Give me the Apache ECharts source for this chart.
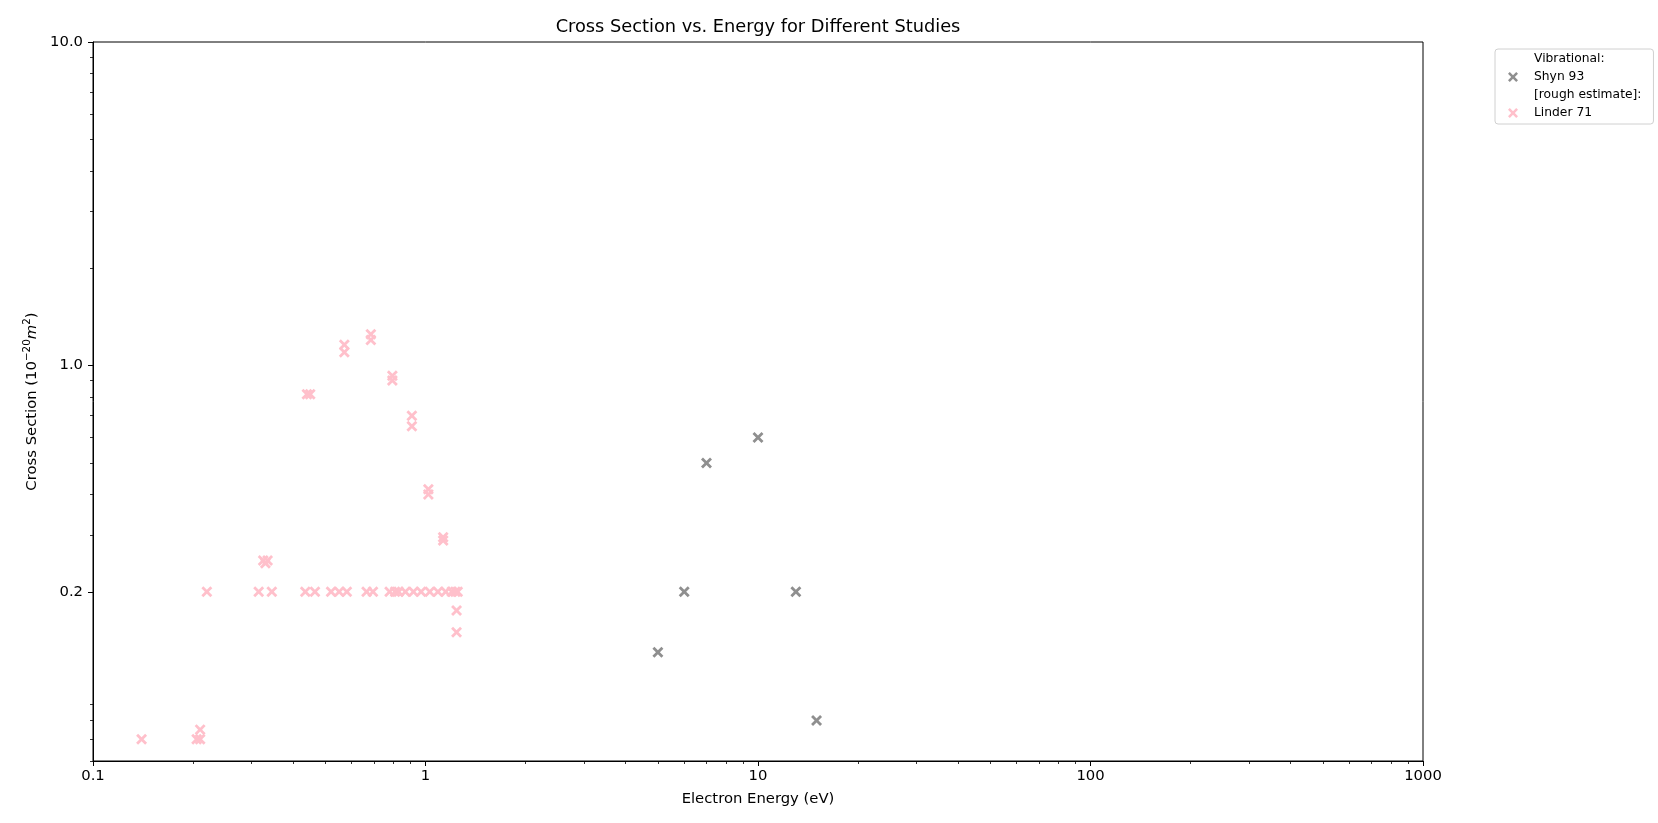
<!DOCTYPE html>
<html>
<head>
<meta charset="utf-8">
<script src="https://cdn.jsdelivr.net/npm/echarts@6/dist/echarts.min.js"></script>
<style>
html,body{margin:0;padding:0;background:#fff;}
#chart{width:1658px;height:823px;}
</style>
</head>
<body>
<div id="chart"></div>
<script>
// ---- data ----
const shynEnergy = [5, 6, 7, 10, 13, 15];
const shynCross  = [0.13, 0.2, 0.5, 0.6, 0.2, 0.08];

const linderEnergy = [
  0.14, 0.205, 0.21, 0.21, 0.22,
  0.315, 0.345, 0.325, 0.335, 0.33,
  0.435, 0.465, 0.44, 0.45,
  0.52, 0.55, 0.58, 0.57, 0.57,
  0.665, 0.695, 0.685, 0.685,
  0.78, 0.81, 0.83, 0.87, 0.92, 0.97, 1.03, 1.09, 1.15, 1.2, 1.23, 1.25,
  0.795, 0.795, 0.91, 0.91, 1.02, 1.02, 1.13, 1.13, 1.24, 1.24
];
const linderCross = [
  0.07, 0.07, 0.07, 0.075, 0.2,
  0.2, 0.2, 0.25, 0.25, 0.245,
  0.2, 0.2, 0.815, 0.815,
  0.2, 0.2, 0.2, 1.16, 1.10,
  0.2, 0.2, 1.25, 1.2,
  0.2, 0.2, 0.2, 0.2, 0.2, 0.2, 0.2, 0.2, 0.2, 0.2, 0.2, 0.2,
  0.93, 0.90, 0.70, 0.65, 0.415, 0.40, 0.295, 0.288, 0.175, 0.15
];

const xTickValues = [0.1, 1, 10, 100, 1000];
const xTickLabels = ['0.1', '1', '10', '100', '1000'];
const yTickValues = [0.2, 1, 10];
const yTickLabels = ['0.2', '1.0', '10.0'];
const xMinorTicks = [0.2,0.3,0.4,0.5,0.6,0.7,0.8,0.9, 2,3,4,5,6,7,8,9, 20,30,40,50,60,70,80,90, 200,300,400,500,600,700,800,900];
const yMinorTicks = [0.06,0.07,0.08,0.09, 0.2,0.3,0.4,0.5,0.6,0.7,0.8,0.9, 2,3,4,5,6,7,8,9];

const seriesNames = ['Vibrational:', 'Shyn 93', '[rough estimate]:', 'Linder 71'];
const colors = { shyn: '#8f8f8f', linder: '#ffc0cb' };

// ---- helpers ----
const d = 18;
const X_PATH = 'path://M' + d + ',0L50,' + (50 - d) + 'L' + (100 - d) + ',0L100,' + d + 'L' + (50 + d) + ',50L100,' + (100 - d) +
  'L' + (100 - d) + ',100L50,' + (50 + d) + 'L' + d + ',100L0,' + (100 - d) + 'L' + (50 - d) + ',50L0,' + d + 'Z';

function zip(xs, ys) { return xs.map((x, i) => [x, ys[i]]); }
function labelFor(values, labels) {
  return function (v) {
    for (let i = 0; i < values.length; i++) {
      if (Math.abs(values[i] - v) / values[i] < 1e-6) return labels[i];
    }
    return '';
  };
}

const FONT = 'DejaVu Sans';
const chart = echarts.init(document.getElementById('chart'), null, { renderer: 'canvas' });

const axisCommon = { type: 'log', logBase: 10, splitLine: { show: false } };

const option = {
  backgroundColor: '#fff',
  animation: false,
  textStyle: { fontFamily: FONT },
  grid: {
    left: 93, right: 235, top: 42, bottom: 62,
    show: true, borderColor: '#000', borderWidth: 1, backgroundColor: 'transparent'
  },
  graphic: [{
    type: 'text',
    style: {
      x: 758, y: 27, text: 'Cross Section vs. Energy for Different Studies',
      textAlign: 'center', textVerticalAlign: 'middle',
      font: '17.8px "DejaVu Sans"', fill: '#000'
    }
  }],
  xAxis: [
    Object.assign({}, axisCommon, {
      min: 0.1, max: 1000,
      axisLine: { show: true, lineStyle: { color: '#000', width: 1 } },
      axisTick: { show: true, length: 5, lineStyle: { color: '#000', width: 1 }, customValues: xTickValues },
      axisLabel: {
        show: true, color: '#000', fontSize: 14.8, fontFamily: FONT, margin: 8,
        customValues: xTickValues, formatter: labelFor(xTickValues, xTickLabels)
      },
      minorTick: { show: false },
      name: 'Electron Energy (eV)', nameLocation: 'middle', nameGap: 31,
      nameTextStyle: { color: '#000', fontSize: 14.8, fontFamily: FONT }
    }),
    Object.assign({}, axisCommon, {
      min: 0.1, max: 1000, position: 'bottom',
      axisLine: { show: false },
      axisTick: { show: true, length: 3, lineStyle: { color: '#000', width: 0.8 }, customValues: xMinorTicks },
      axisLabel: { show: false }
    })
  ],
  yAxis: [
    Object.assign({}, axisCommon, {
      min: 0.06, max: 10,
      axisLine: { show: true, lineStyle: { color: '#000', width: 1 } },
      axisTick: { show: true, length: 5, lineStyle: { color: '#000', width: 1 }, customValues: yTickValues },
      axisLabel: {
        show: true, color: '#000', fontSize: 14.8, fontFamily: FONT, margin: 10,
        customValues: yTickValues, formatter: labelFor(yTickValues, yTickLabels)
      },
      name: '{n|Cross Section (10}{s|−20}{i|m}{s|2}{n|)}',
      nameLocation: 'middle', nameGap: 46, nameRotate: 90,
      nameTextStyle: {
        color: '#000', fontSize: 14.8, fontFamily: FONT,
        rich: {
          n: { fontSize: 14.8, fontFamily: FONT, color: '#000' },
          i: { fontSize: 14.8, fontFamily: FONT, fontStyle: 'italic', color: '#000' },
          s: { fontSize: 10.4, fontFamily: FONT, color: '#000', padding: [0, 0, 9, 0] }
        }
      }
    }),
    Object.assign({}, axisCommon, {
      min: 0.06, max: 10, position: 'left',
      axisLine: { show: false },
      axisTick: { show: true, length: 3, lineStyle: { color: '#000', width: 0.8 }, customValues: yMinorTicks },
      axisLabel: { show: false }
    })
  ],
  legend: {
    orient: 'vertical',
    left: 1495, top: 49,
    padding: [4, 12, 5, 2],
    itemGap: 6,
    itemWidth: 32, itemHeight: 10,
    symbolKeepAspect: true,
    selectedMode: false,
    backgroundColor: '#fff',
    borderColor: '#d0d0d0', borderWidth: 1, borderRadius: 3,
    textStyle: { color: '#000', fontSize: 12.3, fontFamily: FONT },
    data: [
      { name: seriesNames[0], icon: 'none' },
      { name: seriesNames[1] },
      { name: seriesNames[2], icon: 'none' },
      { name: seriesNames[3] }
    ]
  },
  series: [
    { name: seriesNames[0], type: 'scatter', data: [], xAxisIndex: 0, yAxisIndex: 0 },
    {
      name: seriesNames[1], type: 'scatter', xAxisIndex: 0, yAxisIndex: 0,
      symbol: X_PATH, symbolSize: 11, symbolKeepAspect: true,
      itemStyle: { color: colors.shyn, opacity: 1 },
      data: zip(shynEnergy, shynCross), z: 3
    },
    { name: seriesNames[2], type: 'scatter', data: [], xAxisIndex: 0, yAxisIndex: 0 },
    {
      name: seriesNames[3], type: 'scatter', xAxisIndex: 0, yAxisIndex: 0,
      symbol: X_PATH, symbolSize: 11, symbolKeepAspect: true,
      itemStyle: { color: colors.linder, opacity: 1 },
      data: zip(linderEnergy, linderCross), z: 3
    }
  ]
};
chart.setOption(option);
</script>
</body>
</html>
